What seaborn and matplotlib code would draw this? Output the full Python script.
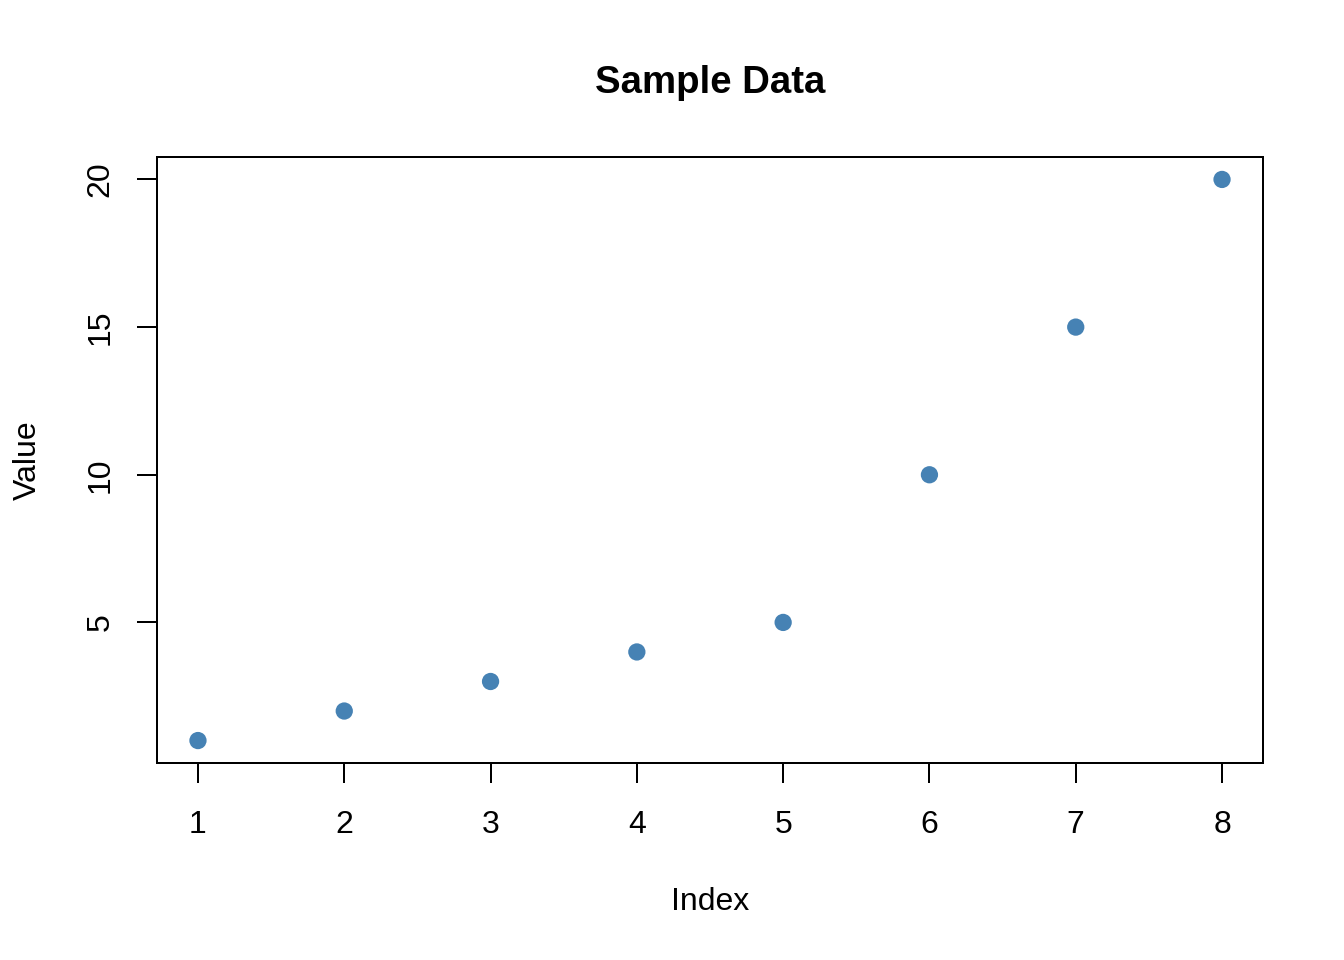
import matplotlib
matplotlib.use("Agg")
import matplotlib.pyplot as plt
import seaborn as sns
import pandas as pd

index = [1, 2, 3, 4, 5, 6, 7, 8]
values = [1, 2, 3, 4, 5, 10, 15, 20]
x_ticks = [1, 2, 3, 4, 5, 6, 7, 8]
y_ticks = [5, 10, 15, 20]

sns.set_style("white")
plt.rcParams['font.family'] = ['Liberation Sans', 'DejaVu Sans']
plt.rcParams['text.color'] = 'black'

df = pd.DataFrame({"Index": index, "Value": values})

W, H = 1344, 960
fig = plt.figure(figsize=(7, 5), dpi=192)
ax = fig.add_axes([157 / W, 1 - 763 / H, (1263 - 157) / W, (763 - 157) / H])

sns.scatterplot(data=df, x="Index", y="Value", ax=ax, color="#4682B4",
                s=42, linewidth=0, edgecolor="none")

ax.set_xlim(0.72, 8.28)
ax.set_ylim(0.24, 20.76)
ax.set_xticks(x_ticks)
ax.set_yticks(y_ticks)
ax.set_xticklabels([str(t) for t in x_ticks])
ax.set_yticklabels([str(t) for t in y_ticks], rotation=90, va="center")
for sp in ax.spines.values():
    sp.set_visible(True)
    sp.set_color("black")
    sp.set_linewidth(0.75)
ax.tick_params(axis="both", direction="out", length=7.5, width=0.75,
               color="black", labelsize=12, labelcolor="black",
               bottom=True, left=True, top=False, right=False)
ax.tick_params(axis="x", pad=10)
ax.tick_params(axis="y", pad=8)
ax.set_xlabel("")
ax.set_ylabel("")

fig.text(710 / W, 1 - 83 / H, "Sample Data", ha="center", va="center",
         fontsize=14.4, fontweight="bold", color="black")
fig.text(710 / W, 1 - 902 / H, "Index", ha="center", va="center", fontsize=12,
         color="black")
fig.text(28 / W, 1 - 460 / H, "Value", ha="center", va="center", fontsize=12,
         rotation=90, color="black")

fig.savefig("out.png", dpi=192)
